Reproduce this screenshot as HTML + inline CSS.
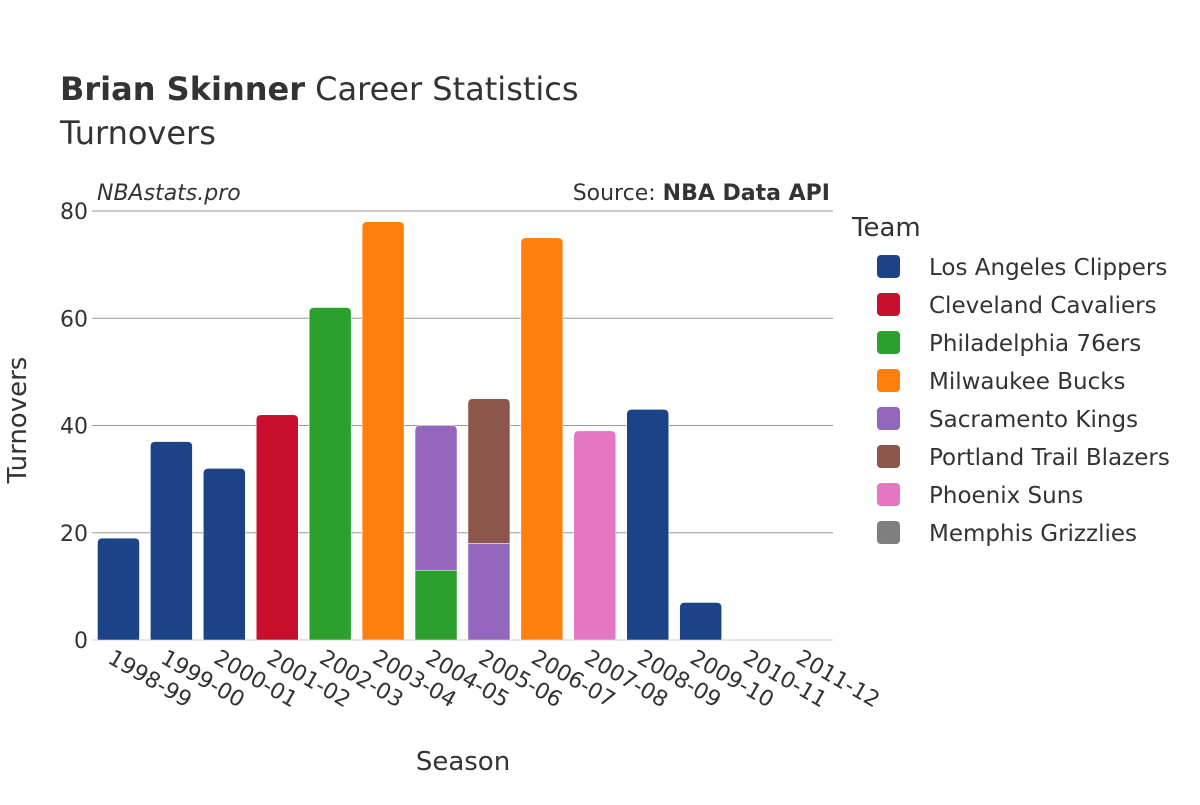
<!DOCTYPE html>
<html><head><meta charset="utf-8">
<style>
body{margin:0;background:#fff;font-family:"Liberation Sans","DejaVu Sans",sans-serif;}
svg text{font-family:"DejaVu Sans","Liberation Sans",sans-serif;fill:#333;}
</style></head>
<body>
<svg id="chart" width="1200" height="800" xmlns="http://www.w3.org/2000/svg">
<rect width="1200" height="800" fill="#fff"/>
<text x="60" y="100" font-size="32"><tspan font-weight="bold">Brian Skinner</tspan> Career Statistics</text>
<text x="60" y="144" font-size="32">Turnovers</text>
<text x="97" y="200" font-size="22" font-style="italic">NBAstats.pro</text>
<text x="830" y="200" font-size="22" text-anchor="end">Source: <tspan font-weight="bold">NBA Data API</tspan></text>
<g id="grid"></g>
<g id="bars"></g>
<g id="xticks"></g>
<text transform="translate(26,420) rotate(-90)" font-size="26" text-anchor="middle">Turnovers</text>
<text x="463" y="770" font-size="26" text-anchor="middle">Season</text>
<text x="852" y="236" font-size="26">Team</text>
<g id="legend"></g>
</svg>
<script>
const seasons=["1998-99","1999-00","2000-01","2001-02","2002-03","2003-04","2004-05","2005-06","2006-07","2007-08","2008-09","2009-10","2010-11","2011-12"];
const teams=["Los Angeles Clippers","Cleveland Cavaliers","Philadelphia 76ers","Milwaukee Bucks","Sacramento Kings","Portland Trail Blazers","Phoenix Suns","Memphis Grizzlies"];
const colors=["#1c4287","#c8102e","#2ca02c","#ff7f0e","#9467bd","#8c564b","#e377c2","#7f7f7f"];
const clippers=[19,37,32,0,0,0,0,0,0,0,43,7,0,0];
const cavaliers=[0,0,0,42,0,0,0,0,0,0,0,0,0,0];
const sixers=[0,0,0,0,62,0,13,0,0,0,0,0,0,0];
const bucks=[0,0,0,0,0,78,0,0,75,0,0,0,0,0];
const kings=[0,0,0,0,0,0,27,18,0,0,0,0,0,0];
const blazers=[0,0,0,0,0,0,0,27,0,0,0,0,0,0];
const suns=[0,0,0,0,0,0,0,0,0,39,0,0,0,0];
const grizzlies=[0,0,0,0,0,0,0,0,0,0,0,0,0,0];
const series=[clippers,cavaliers,sixers,bucks,kings,blazers,suns,grizzlies];
const order=[0,1,2,4,3,5,6,7];
const yTicks=[0,20,40,60,80];
const NS="http://www.w3.org/2000/svg";
const X0=92,X1=833,Y0=640,Y1=211,YMAX=80;
const step=(X1-X0)/seasons.length;
const xc=i=>X0+step*(i+0.5);
const y=v=>Y0-(v/YMAX)*(Y0-Y1);
function mk(t,a,p){const e=document.createElementNS(NS,t);for(const k in a)e.setAttribute(k,a[k]);p.appendChild(e);return e;}
const grid=document.getElementById('grid');
yTicks.forEach(t=>{
 const l=mk('line',{x1:X0,x2:X1,y1:y(t),y2:y(t),stroke:t===0?'#e6e6e6':'#999','stroke-width':t===0?2:1},grid);
 
 
 const tx=mk('text',{x:X0-4,y:y(t)+8,'font-size':22,'text-anchor':'end'},grid);
 tx.textContent=t;
 
 
});
const bars=document.getElementById('bars');
const bw=42;
seasons.forEach((s,i)=>{
 let base=0;
 // stack: teams in order; top segment gets rounded corners
 const segs=[];
 order.forEach(ti=>{const v=series[ti][i];if(v>0){segs.push([ti,base,v]);base+=v;}});
 segs.forEach(([ti,b,v],k)=>{
  const top=y(b+v),bot=y(b),x=xc(i)-bw/2,h=bot-top;
  let d;
  if(k===segs.length-1){const r=Math.min(5,h/2);d=`M${x},${bot}V${top+r}Q${x},${top} ${x+r},${top}H${x+bw-r}Q${x+bw},${top} ${x+bw},${top+r}V${bot}Z`;}
  else d=`M${x},${bot}V${top}H${x+bw}V${bot}Z`;
  const p=mk('path',{d:d,fill:colors[ti],stroke:'#fff','stroke-width':0.5},bars);
  
  
 });
});
const xt=document.getElementById('xticks');
seasons.forEach((s,i)=>{
 const t=mk('text',{transform:`translate(${xc(i)-12},${662}) rotate(30)`,'font-size':22},xt);
 t.textContent=s;
 
 
});
const lg=document.getElementById('legend');
teams.forEach((tm,i)=>{
 const g=mk('g',{},lg);
 
 
 const yy=266+i*38;
 mk('rect',{x:877,y:yy-11,width:23,height:23,rx:4,fill:colors[i]},g);
 const t=mk('text',{x:929,y:yy+9,'font-size':23},g);
 t.textContent=tm;
});
</script>
</body></html>
